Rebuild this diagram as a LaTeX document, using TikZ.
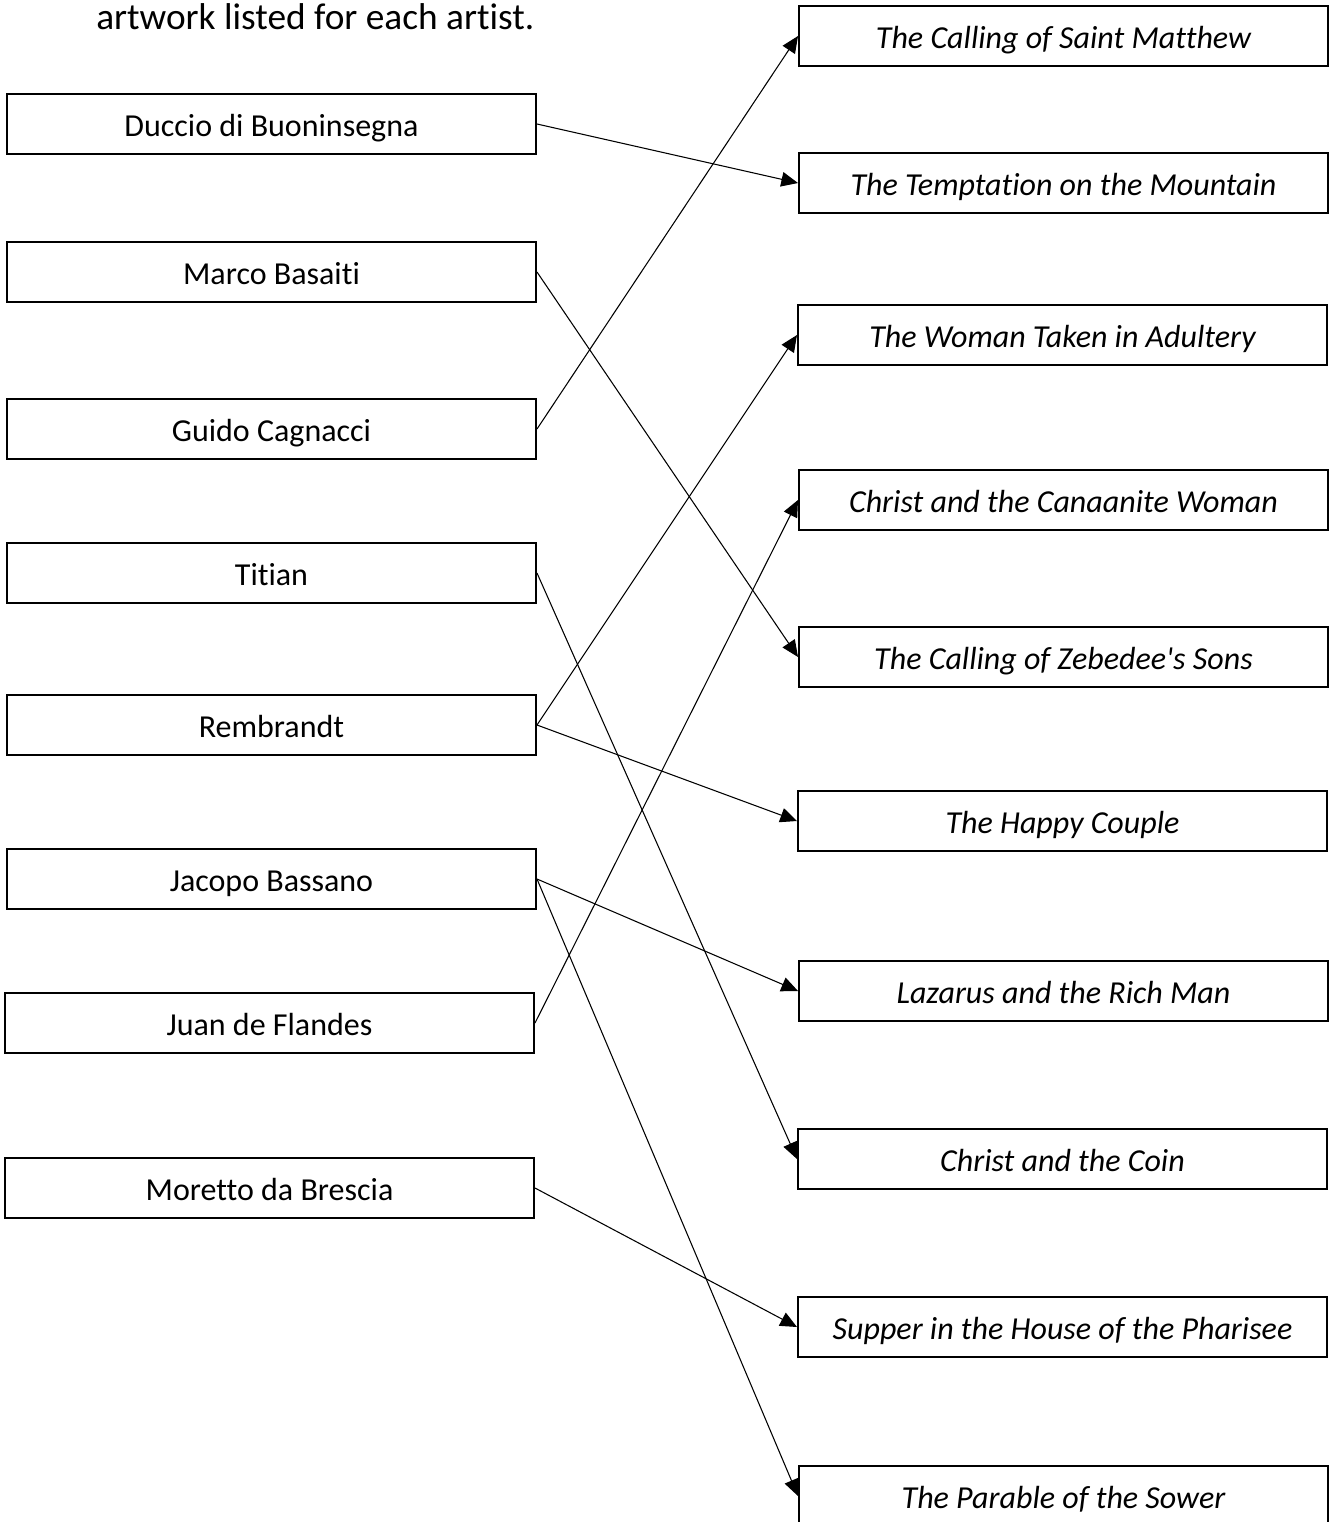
\documentclass[tikz,border=0pt]{standalone}
\usepackage{fontspec}
\setmainfont{Carlito}[Ligatures={NoCommon}]
\usetikzlibrary{arrows.meta}
\definecolor{ink}{HTML}{000000}
\tikzset{
  artist/.style={draw=ink, line width=1.5pt, minimum width=396.75pt, minimum height=45pt, inner sep=0pt,
    text height=18pt, text depth=0pt, font=\fontsize{24}{28}\selectfont},
  work/.style={artist, font=\fontsize{24}{28}\selectfont\itshape},
  link/.style={draw=ink, line width=0.8pt, -{Triangle[length=12.5pt,width=11pt]}},
  intro/.style={anchor=base west, inner sep=0pt, font=\fontsize{28}{34}\selectfont},
}

\begin{document}
\begin{tikzpicture}[x=0.75pt,y=-0.75pt]
  \useasboundingbox (0,0) rectangle (1331,1522);
  \node[intro] (head) at (96,29) {artwork listed for each artist.};
  % artists
  \node[artist] (duccio)    at (271.5,124)  {Duccio di Buoninsegna};
  \node[artist] (basaiti)   at (271.5,272)  {Marco Basaiti};
  \node[artist] (cagnacci)  at (271.5,429)  {Guido Cagnacci};
  \node[artist] (titian)    at (271.5,573)  {Titian};
  \node[artist] (rembrandt) at (271.5,725)  {Rembrandt};
  \node[artist] (bassano)   at (271.5,879)  {Jacopo Bassano};
  \node[artist] (flandes)   at (269.5,1023) {Juan de Flandes};
  \node[artist] (moretto)   at (269.5,1188) {Moretto da Brescia};
  % artworks
  \node[work] (matthew)    at (1063.5,36)   {The Calling of Saint Matthew};
  \node[work] (temptation) at (1063.5,183)  {The Temptation on the Mountain};
  \node[work] (adultery)   at (1062.5,335)  {The Woman Taken in Adultery};
  \node[work] (canaanite)  at (1063.5,500)  {Christ and the Canaanite Woman};
  \node[work] (zebedee)    at (1063.5,657)  {The Calling of Zebedee\textquotesingle s Sons};
  \node[work] (couple)     at (1062.5,821)  {The Happy Couple};
  \node[work] (lazarus)    at (1063.5,991)  {Lazarus and the Rich Man};
  \node[work] (coin)       at (1062.5,1159) {Christ and the Coin};
  \node[work] (pharisee)   at (1062.5,1327) {Supper in the House of the Pharisee};
  \node[work] (sower)      at (1063.5,1496) {The Parable of the Sower};
  % matches
  \draw[link] (duccio.east) -- (temptation.west);
  \draw[link] (basaiti.east) -- (zebedee.west);
  \draw[link] (cagnacci.east) -- (matthew.west);
  \draw[link] (titian.east) -- (coin.west);
  \draw[link] (rembrandt.east) -- (adultery.west);
  \draw[link] (rembrandt.east) -- (couple.west);
  \draw[link] (bassano.east) -- (lazarus.west);
  \draw[link] (bassano.east) -- (sower.west);
  \draw[link] (flandes.east) -- (canaanite.west);
  \draw[link] (moretto.east) -- (pharisee.west);
\end{tikzpicture}
\end{document}
